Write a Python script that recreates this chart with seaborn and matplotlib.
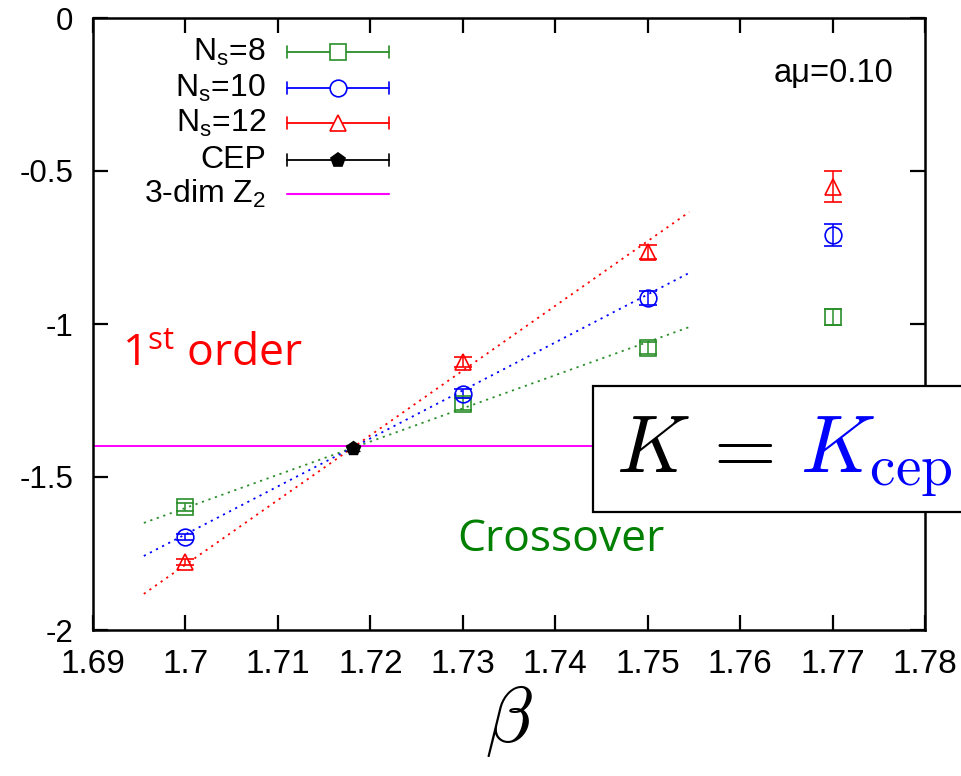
import matplotlib
matplotlib.use("Agg")
import matplotlib.pyplot as plt
import seaborn as sns
import pandas as pd
from matplotlib.patches import Rectangle
from matplotlib.lines import Line2D

# ---------------- data ----------------
beta = [1.70, 1.73, 1.75, 1.77]
k_ns8 = [-1.598, -1.262, -1.078, -0.977]
e_ns8 = [0.012, 0.02, 0.02, 0.025]
k_ns10 = [-1.696, -1.228, -0.915, -0.709]
e_ns10 = [0.01, 0.015, 0.024, 0.035]
k_ns12 = [-1.778, -1.124, -0.765, -0.551]
e_ns12 = [0.01, 0.015, 0.022, 0.05]
cep_beta = [1.7181]
cep_k = [-1.405]
cep_err = [0.01]
z2_k = -1.4
fit_beta = [1.6955, 1.7545]
fit_ns8 = [-1.65, -1.01]
fit_ns10 = [-1.758, -0.833]
fit_ns12 = [-1.882, -0.634]
xticks = [1.69, 1.70, 1.71, 1.72, 1.73, 1.74, 1.75, 1.76, 1.77, 1.78]
xtick_labels = ["1.69", "1.7", "1.71", "1.72", "1.73", "1.74", "1.75", "1.76", "1.77", "1.78"]
yticks = [-2, -1.5, -1, -0.5, 0]
ytick_labels = ["-2", "-1.5", "-1", "-0.5", "0"]
legend_labels = [r"N$_\mathregular{s}$=8", r"N$_\mathregular{s}$=10", r"N$_\mathregular{s}$=12",
                 "CEP", r"3-dim Z$_\mathregular{2}$"]

C_N8 = "#2a8f2a"
C_N10 = "#0000ff"
C_N12 = "#ff0000"
C_Z2 = "#ff00ff"

sns.set_theme(style="ticks")
plt.rcParams["font.family"] = ["Liberation Sans", "DejaVu Sans"]
plt.rcParams["text.color"] = "black"
plt.rcParams["xtick.color"] = "black"
plt.rcParams["ytick.color"] = "black"

W, H = 961, 776
fig = plt.figure(figsize=(W / 100, H / 100), dpi=100)
L, R, T, B = 93, 925, 18, 630
ax = fig.add_axes([L / W, (H - B) / H, (R - L) / W, (B - T) / H])

def fx(px):
    return px / W

def fy(py):
    return (H - py) / H

# fit lines
fits = pd.DataFrame({
    "beta": fit_beta * 3,
    "K": fit_ns8 + fit_ns10 + fit_ns12,
    "series": ["8"] * 2 + ["10"] * 2 + ["12"] * 2,
})
for s, c in [("8", C_N8), ("10", C_N10), ("12", C_N12)]:
    d = fits[fits.series == s]
    sns.lineplot(data=d, x="beta", y="K", ax=ax, color=c, lw=1.3,
                 linestyle=(0, (1.2, 2.6)), legend=False, zorder=2)

# Z2 line
ax.axhline(z2_k, color=C_Z2, lw=1.4, zorder=1)

# data with error bars
for k, e, c, m, ms in [(k_ns8, e_ns8, C_N8, "s", 11.5),
                       (k_ns10, e_ns10, C_N10, "o", 12),
                       (k_ns12, e_ns12, C_N12, "^", 12)]:
    ax.errorbar(beta, k, yerr=e, fmt=m, ms=ms, mfc="none", mec=c, mew=1.2,
                color=c, ecolor=c, elinewidth=1.1, capsize=6.5, capthick=1.1, zorder=4)
ax.errorbar(cep_beta, cep_k, yerr=cep_err, fmt="p", ms=10, color="black",
            ecolor="black", elinewidth=1.1, capsize=5, zorder=5)

ax.set_xlim(1.69, 1.78)
ax.set_ylim(-2, 0)
ax.set_xticks(xticks)
ax.set_xticklabels(xtick_labels)
ax.set_yticks(yticks)
ax.set_yticklabels(ytick_labels)
ax.tick_params(axis="both", direction="in", length=11, width=1.6,
               top=True, right=True, color="black", labelcolor="black")
ax.tick_params(axis="x", labelsize=24, pad=14)
ax.tick_params(axis="y", labelsize=22.5, pad=14)
for sp in ax.spines.values():
    sp.set_linewidth(1.8)
    sp.set_color("black")
    sp.set_visible(True)
ax.set_xlabel(r"$\beta$", fontsize=56, math_fontfamily="cm", labelpad=2, color="black")
ax.set_ylabel("")

# manual gnuplot-style legend
rows_y = [52, 88, 123, 160, 194]
styles = [(C_N8, "s", 11.5, "none"), (C_N10, "o", 12, "none"), (C_N12, "^", 12, "none"),
          ("black", "p", 10, "black"), (C_Z2, None, 0, None)]
for yy, lab, (c, m, ms, fc) in zip(rows_y, legend_labels, styles):
    fig.text(fx(266), fy(yy), lab, ha="right", va="center", fontsize=23, color="black")
    fig.add_artist(Line2D([fx(287), fx(389)], [fy(yy), fy(yy)], color=c, lw=1.3 if m else 1.5))
    if m:
        for xx in (287, 389):
            fig.add_artist(Line2D([fx(xx), fx(xx)], [fy(yy - 6), fy(yy + 6)], color=c, lw=1.2))
        fig.add_artist(Line2D([fx(338)], [fy(yy)], marker=m, ms=ms, mfc=fc if fc != "none" else "white",
                              mec=c, mew=1.2, color=c, lw=0))

# annotations
fig.text(fx(893), fy(73), "a\u03bc=0.10", ha="right", va="center", fontsize=23.5, color="black")
fig.text(fx(122), fy(355), r"1$^\mathregular{st}$ order", ha="left", va="center",
         fontsize=32, color="#ff0000", family="Open Sans")
fig.text(fx(457), fy(540), "Crossover", ha="left", va="center",
         fontsize=32, color="#007f00", family="Open Sans")

# K = K_cep box
rect = Rectangle((fx(593), fy(512)), fx(1010) - fx(593), fy(386) - fy(512),
                 transform=fig.transFigure, facecolor="white", edgecolor="black",
                 lw=1.6, zorder=10, clip_on=False)
ax.add_artist(rect)
ax.text(fx(616), fy(472), r"$K$", transform=fig.transFigure, fontsize=58,
        math_fontfamily="cm", color="black", ha="left", va="baseline", zorder=11, clip_on=False)
ax.text(fx(699), fy(472), r"$=$", transform=fig.transFigure, fontsize=58,
        math_fontfamily="cm", color="black", ha="left", va="baseline", zorder=11, clip_on=False)
ax.text(fx(800), fy(472), r"$K_\mathrm{cep}$", transform=fig.transFigure, fontsize=59,
        math_fontfamily="cm", color="#0000ff", ha="left", va="baseline", zorder=11, clip_on=False)

fig.savefig("out.png", dpi=100, facecolor="white")
